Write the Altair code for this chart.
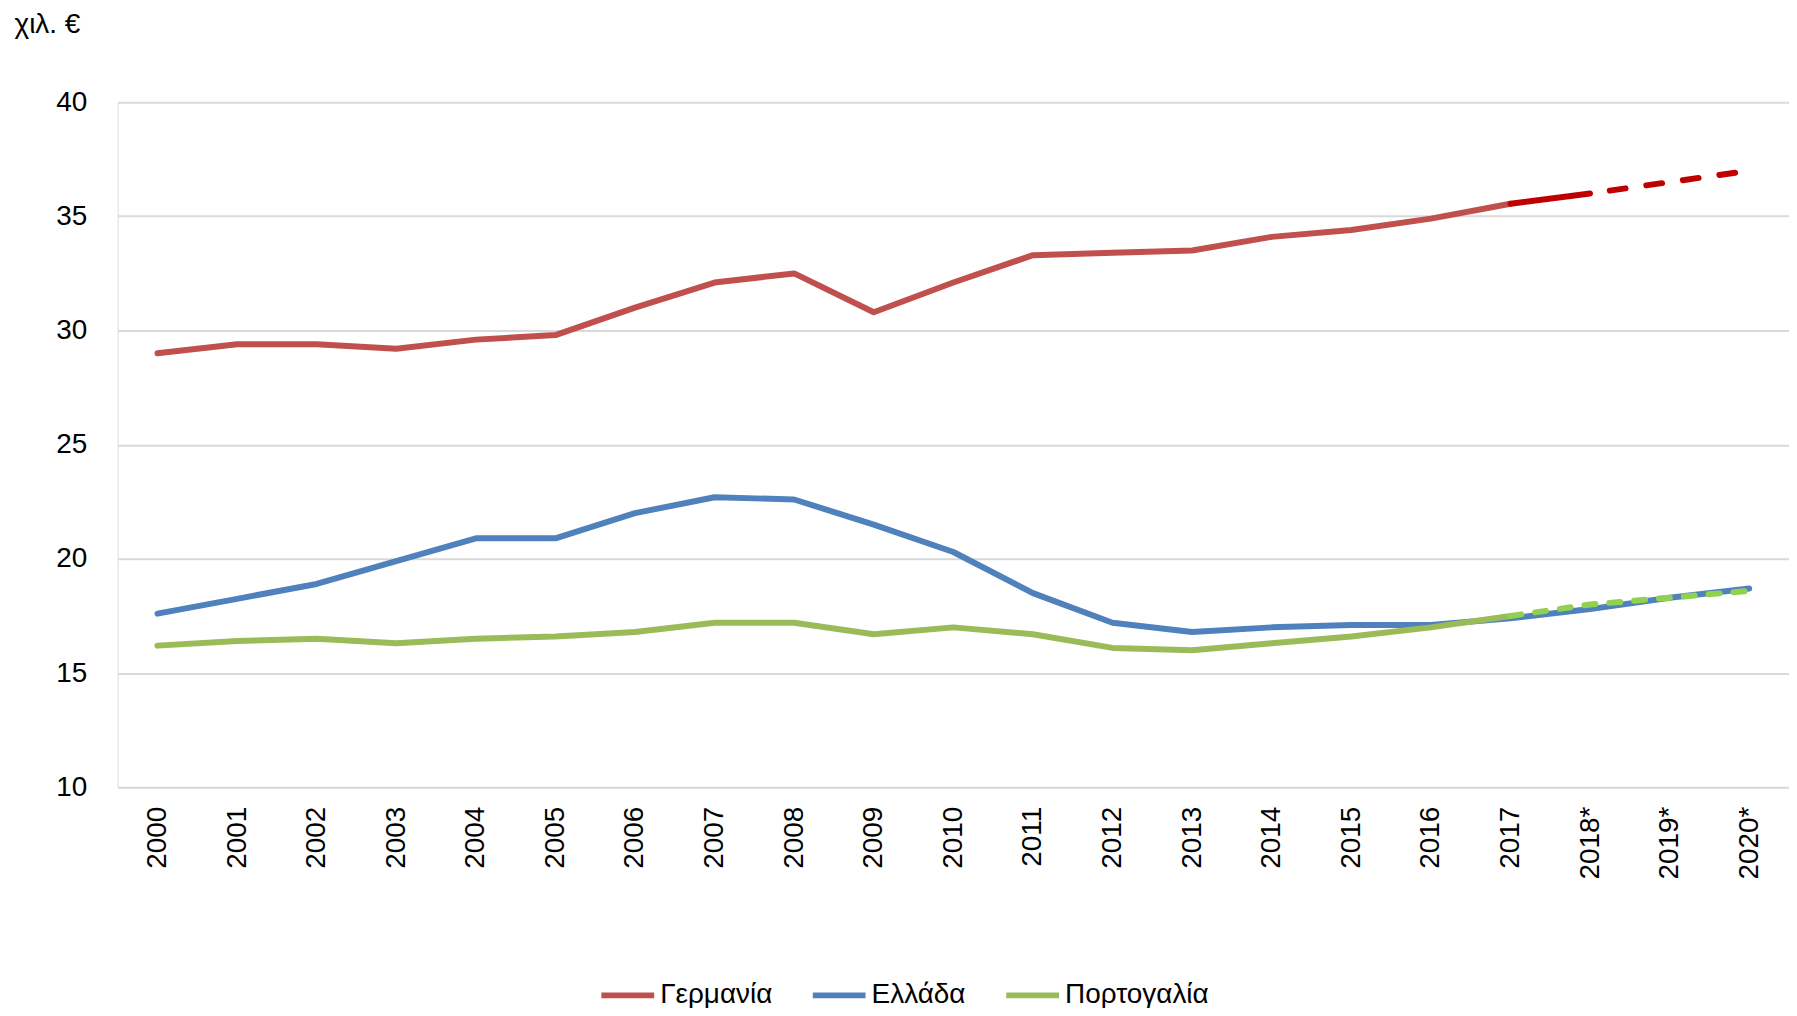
import altair as alt
import pandas as pd

years = ["2000", "2001", "2002", "2003", "2004", "2005", "2006", "2007", "2008", "2009",
         "2010", "2011", "2012", "2013", "2014", "2015", "2016", "2017", "2018*", "2019*", "2020*"]
germany = [29.0, 29.4, 29.4, 29.2, 29.6, 29.8, 31.0, 32.1, 32.5, 30.8,
           32.1, 33.3, 33.4, 33.5, 34.1, 34.4, 34.9, 35.55, 36.0, 36.5, 37.0]
greece = [17.6, 18.25, 18.9, 19.9, 20.9, 20.9, 22.0, 22.7, 22.6, 21.5,
          20.3, 18.5, 17.2, 16.8, 17.0, 17.1, 17.1, 17.4, 17.8, 18.3, 18.7]
portugal = [16.2, 16.4, 16.5, 16.3, 16.5, 16.6, 16.8, 17.2, 17.2, 16.7,
            17.0, 16.7, 16.1, 16.0, 16.3, 16.6, 17.0, 17.5, 18.0, 18.3, 18.6]

series_names = ["Γερμανία", "Ελλάδα", "Πορτογαλία"]
series_colors = ["#C0504D", "#4F81BD", "#9BBB59"]
y_ticks = [10, 15, 20, 25, 30, 35, 40]

rows = []
for name, vals in zip(series_names, [germany, greece, portugal]):
    for i, (yr, v) in enumerate(zip(years, vals)):
        rows.append({"year": yr, "idx": i, "series": name, "value": v})
df = pd.DataFrame(rows)

FONT = "Liberation Sans"
FS = 28
LW = 6

x_enc = alt.X("year:O", scale=alt.Scale(domain=years, type="point", padding=0.5),
              axis=alt.Axis(title=None, labelAngle=-90, labelPadding=19, ticks=False,
                            domain=False, grid=False, labelFontSize=FS, labelColor="#000000",
                            labelFont=FONT))
y_enc = alt.Y("value:Q", scale=alt.Scale(domain=[10, 40], nice=False, zero=False),
              axis=alt.Axis(values=y_ticks, title="χιλ. €", titleAngle=0, titleX=-104, titleY=-70,
                            titleAlign="left", titleBaseline="alphabetic", titleFontWeight="normal",
                            titleFontSize=FS, titleFont=FONT, titleColor="#000000",
                            grid=True, gridColor="#D9D9D9", gridWidth=2, domain=False,
                            ticks=False, labelPadding=31, labelFontSize=FS, labelColor="#000000",
                            labelFont=FONT))

base = alt.Chart(df)

hist = base.transform_filter(
    "(datum.series == 'Ελλάδα') || (datum.idx <= 17)"
).mark_line(strokeWidth=LW, strokeCap="round", strokeJoin="round").encode(
    x=x_enc, y=y_enc,
    color=alt.Color("series:N", scale=alt.Scale(domain=series_names, range=series_colors),
                    sort=series_names,
                    legend=alt.Legend(title=None, orient="none", direction="horizontal",
                                      legendX=482, legendY=866, symbolType="stroke",
                                      symbolSize=2800, symbolStrokeWidth=LW,
                                      labelFontSize=FS, labelFont=FONT, labelColor="#000000",
                                      labelOffset=3, columnPadding=28)),
    order="idx:Q",
)

ger_solid = base.transform_filter(
    "datum.series == 'Γερμανία' && datum.idx >= 17 && datum.idx <= 18"
).mark_line(strokeWidth=LW, strokeCap="round", color="#C00000").encode(x=x_enc, y=y_enc, order="idx:Q")

ger_dash = base.transform_filter(
    "datum.series == 'Γερμανία' && datum.idx >= 18"
).mark_line(strokeWidth=LW, strokeCap="round", color="#C00000", strokeDash=[16, 21],
            strokeDashOffset=-20).encode(x=x_enc, y=y_enc, order="idx:Q")

por_dash = base.transform_filter(
    "datum.series == 'Πορτογαλία' && datum.idx >= 17"
).mark_line(strokeWidth=LW, strokeCap="round", color="#92D050", strokeDash=[11, 14]).encode(
    x=x_enc, y=y_enc, order="idx:Q")

chart = alt.layer(hist, ger_solid, ger_dash, por_dash).properties(
    width=1676, height=687,
    autosize=alt.AutoSizeParams(type="none"),
    padding={"left": 110, "top": 93, "right": 0, "bottom": 220},
).configure_view(stroke=None).configure(font=FONT)

chart.save("out.html", embed_options={"renderer": "svg", "actions": False})
